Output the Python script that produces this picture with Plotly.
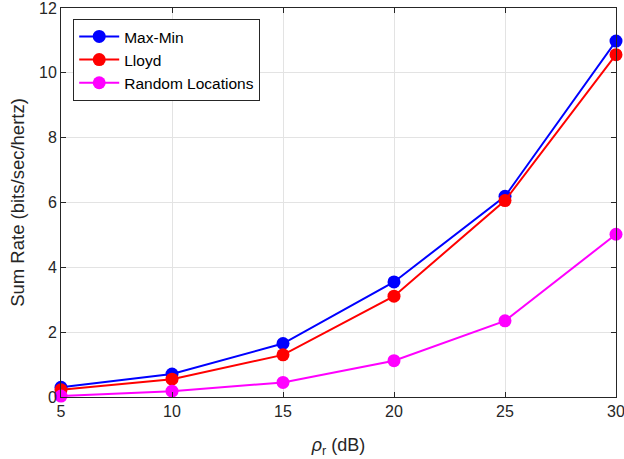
import plotly.graph_objects as go

# Relay SNR in dB
rho_r = [5, 10, 15, 20, 25, 30]

# Sum rate (bits/sec/hertz) for each placement scheme
max_min = [0.30, 0.71, 1.65, 3.55, 6.19, 10.98]
lloyd = [0.22, 0.55, 1.30, 3.11, 6.06, 10.56]
random_locations = [0.03, 0.18, 0.45, 1.12, 2.35, 5.02]

series = [
    ("Max-Min", max_min, "#0000ff"),
    ("Lloyd", lloyd, "#ff0000"),
    ("Random Locations", random_locations, "#ff00ff"),
]

fig = go.Figure()
for name, values, color in series:
    fig.add_trace(go.Scatter(
        x=rho_r, y=values, name=name, mode="lines+markers",
        line=dict(color=color, width=2),
        marker=dict(color=color, size=13),
        cliponaxis=False,
    ))

axis_common = dict(
    showgrid=True, gridcolor="#e3e3e3", gridwidth=1,
    showline=True, linecolor="#262626", linewidth=1, mirror="ticks",
    ticks="inside", ticklen=5, tickcolor="#262626",
    tickfont=dict(family="Liberation Sans, Arial, sans-serif", size=16, color="#262626"),
    ticklabeloverflow="allow",
    automargin=False,
    zeroline=False,
)

fig.update_layout(
    width=624, height=459,
    margin=dict(l=61, r=8, t=8, b=62),
    paper_bgcolor="white", plot_bgcolor="white",
    font=dict(family="Liberation Sans, Arial, sans-serif", color="#262626"),
    xaxis=dict(
        range=[5, 30], tickvals=[5, 10, 15, 20, 25, 30],
        title=dict(text="<i>ρ</i><sub>r</sub> (dB)", font=dict(size=18), standoff=19),
        **axis_common,
    ),
    yaxis=dict(
        range=[0, 12], tickvals=[0, 2, 4, 6, 8, 10, 12],
        title=dict(text="Sum Rate (bits/sec/hertz)", font=dict(size=18.5), standoff=9),
        **axis_common,
    ),
    legend=dict(
        x=0.022, y=0.972, xanchor="left", yanchor="top",
        bgcolor="white", bordercolor="#262626", borderwidth=1,
        font=dict(size=15.5, color="black"),
        itemwidth=40, tracegroupgap=0,
    ),
    showlegend=True,
)

fig.write_html("out.html")
